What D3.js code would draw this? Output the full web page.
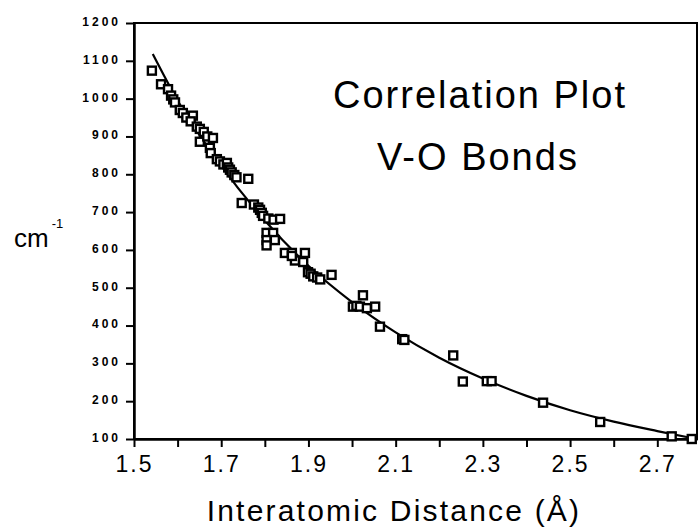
<!DOCTYPE html>
<html>
<head>
<meta charset="utf-8">
<script src="https://cdn.jsdelivr.net/npm/d3@7"></script>
<style>
  body { margin: 0; background: #fff; }
  svg { display: block; font-family: "Liberation Sans", Arial, Helvetica, sans-serif; }
</style>
</head>
<body>
<svg width="699" height="527"></svg>
<script>
// measured V-O bonds: interatomic distance (A) vs. stretching frequency (cm-1)
var distances = [1.541,1.562,1.578,1.585,1.590,1.594,1.605,1.612,1.620,1.635,1.630,1.644,1.651,1.651,1.660,
  1.668,1.681,1.674,1.676,1.690,1.697,1.705,1.713,1.716,1.720,1.724,1.730,1.735,1.762,1.747,1.775,1.785,1.789,
  1.793,1.796,1.808,1.820,1.835,1.804,1.819,1.804,1.823,1.804,1.846,1.862,1.869,1.862,1.892,1.888,1.899,1.905,
  1.911,1.920,1.927,1.953,2.002,2.010,2.018,2.025,2.034,2.053,2.064,2.115,2.120,2.232,2.254,2.309,2.320,2.438,
  2.569,2.733,2.779];
var frequencies = [1074,1038,1025,1008,998,990,970,962,950,955,940,926,920,886,912,
  900,896,870,856,840,834,826,830,818,812,805,798,792,788,724,720,712,706,
  698,690,683,680,682,645,645,626,626,612,592,592,572,584,592,568,541,537,
  530,527,522,534,450,452,450,480,446,450,397,364,362,321,252,253,253,196,
  145,107,100];

// fitted correlation curve
var fitDistances = [1.543,1.6,1.7,1.8,1.9,2.0,2.1,2.2,2.3,2.4,2.5,2.6,2.7,2.79];
var fitFrequencies = [1118,995,822,678,558,462,382,315,260,214,176,146,121,100];

var xTicks = [1.5,1.6,1.7,1.8,1.9,2.0,2.1,2.2,2.3,2.4,2.5,2.6,2.7];
var xLabels = [1.5,1.7,1.9,2.1,2.3,2.5,2.7];
var yTicks = [100,200,300,400,500,600,700,800,900,1000,1100,1200];

var svg = d3.select("svg"),
    plotLeft = 134, plotRight = 697, plotTop = 23, plotBottom = 439;

var x = d3.scaleLinear().domain([1.5, 2.791]).range([plotLeft, plotRight]);
var y = d3.scaleLinear().domain([100, 1200]).range([plotBottom, plotTop]);

// frame
svg.append("rect")
    .attr("x", plotLeft).attr("y", plotTop)
    .attr("width", plotRight - plotLeft).attr("height", plotBottom - plotTop)
    .attr("fill", "none").attr("stroke", "#000").attr("stroke-width", 2);

var yAxis = svg.append("g")
    .attr("transform", "translate(" + plotLeft + ",0)")
    .call(d3.axisLeft(y).tickValues(yTicks).tickSize(8).tickSizeOuter(0).tickPadding(5)
      .tickFormat(d3.format("d")));
yAxis.select(".domain").attr("stroke-width", 2.5);
yAxis.selectAll(".tick line").attr("stroke-width", 2);
yAxis.selectAll(".tick text")
    .attr("font-size", 12).attr("font-weight", "bold")
    .attr("letter-spacing", "3px").attr("dy", "0.2em")
    .attr("fill", "#000").attr("font-family", "inherit");

var xAxis = svg.append("g")
    .attr("transform", "translate(0," + plotBottom + ")")
    .call(d3.axisBottom(x).tickValues(xTicks).tickSize(8).tickSizeOuter(0).tickPadding(9)
      .tickFormat(function(d) { return xLabels.indexOf(d) >= 0 ? d3.format(".1f")(d) : ""; }));
xAxis.select(".domain").attr("stroke-width", 2.5);
xAxis.selectAll(".tick line").attr("stroke-width", 2);
xAxis.selectAll(".tick text")
    .attr("font-size", 23).attr("letter-spacing", "2px")
    .attr("fill", "#000").attr("font-family", "inherit");

// fitted curve
var fit = fitDistances.map(function(d, i) { return [d, fitFrequencies[i]]; });
svg.append("path")
    .datum(fit)
    .attr("fill", "none").attr("stroke", "#000").attr("stroke-width", 2.2)
    .attr("d", d3.line()
      .x(function(d) { return x(d[0]); })
      .y(function(d) { return y(d[1]); })
      .curve(d3.curveMonotoneX));

// data points: open squares
var s = 8;
svg.append("g").selectAll("rect")
    .data(distances)
  .enter().append("rect")
    .attr("x", function(d) { return x(d) - s / 2; })
    .attr("y", function(d, i) { return y(frequencies[i]) - s / 2; })
    .attr("width", s).attr("height", s)
    .attr("fill", "#fff").attr("stroke", "#000").attr("stroke-width", 2.4);

// titles
svg.append("text")
    .attr("x", 480).attr("y", 108).attr("text-anchor", "middle")
    .attr("font-size", 38).attr("letter-spacing", "2px")
    .text("Correlation Plot");
svg.append("text")
    .attr("x", 478).attr("y", 170).attr("text-anchor", "middle")
    .attr("font-size", 38).attr("letter-spacing", "2px")
    .text("V-O Bonds");

var yl = svg.append("text").attr("x", 14).attr("y", 247).attr("font-size", 26);
yl.append("tspan").text("cm");
yl.append("tspan").attr("font-size", 13).attr("dx", 3).attr("dy", -19).text("-1");

svg.append("text")
    .attr("x", 394).attr("y", 521).attr("text-anchor", "middle")
    .attr("font-size", 30).attr("letter-spacing", "2.2px")
    .text("Interatomic Distance (Å)");
</script>
</body>
</html>
